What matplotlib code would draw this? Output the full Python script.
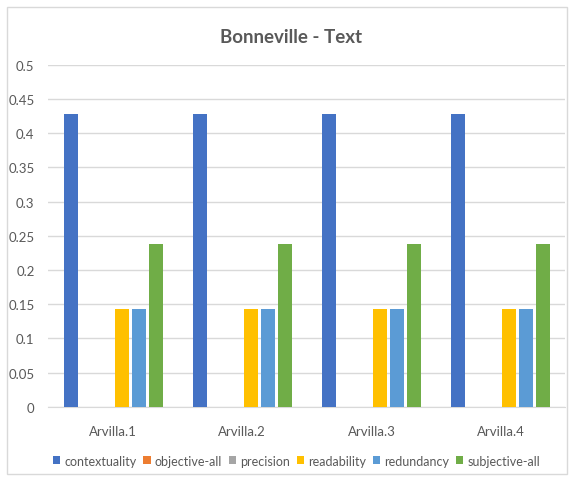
import matplotlib.pyplot as plt
from matplotlib.patches import Rectangle
import numpy as np

plt.rcParams['font.family'] = ['Lato', 'DejaVu Sans']

categories = ["Arvilla.1", "Arvilla.2", "Arvilla.3", "Arvilla.4"]
series = ["contextuality", "objective-all", "precision", "readability", "redundancy", "subjective-all"]
contextuality = [0.4286, 0.4286, 0.4286, 0.4286]
objective_all = [0, 0, 0, 0]
precision = [0, 0, 0, 0]
readability = [0.1429, 0.1429, 0.1429, 0.1429]
redundancy = [0.1429, 0.1429, 0.1429, 0.1429]
subjective_all = [0.2381, 0.2381, 0.2381, 0.2381]
values = [contextuality, objective_all, precision, readability, redundancy, subjective_all]
colors = ["#4472C4", "#ED7D31", "#A5A5A5", "#FFC000", "#5B9BD5", "#70AD47"]

fig = plt.figure(figsize=(5.7, 4.81), dpi=100)
ax = fig.add_axes([0.085, 0.152, 0.907, 0.711])

x = np.arange(len(categories))
step = 0.1315
width = 0.108
for i, (name, vals, c) in enumerate(zip(series, values, colors)):
    ax.bar(x + (i - 2.5) * step, vals, width=width, color=c, label=name, zorder=3)

ax.set_xlim(-0.5, len(categories) - 0.5)
ax.set_ylim(0, 0.5)
ax.set_yticks(np.arange(0, 0.51, 0.05))
ax.set_yticklabels(["0", "0.05", "0.1", "0.15", "0.2", "0.25", "0.3", "0.35", "0.4", "0.45", "0.5"])
ax.set_xticks(x)
ax.set_xticklabels(categories)
ax.grid(axis="y", color="#D9D9D9", linewidth=1, zorder=0)
for s in ["top", "right", "left"]:
    ax.spines[s].set_visible(False)
ax.spines["bottom"].set_color("#D9D9D9")
ax.tick_params(axis="both", length=0, colors="#595959", labelsize=9.5)
ax.tick_params(axis="x", pad=13)
ax.tick_params(axis="y", pad=10)

fig.text(0.51, 0.923, "Bonneville - Text", ha="center", va="center",
         fontsize=13.5, fontweight="bold", color="#595959")

leg = fig.legend(loc="center", bbox_to_anchor=(0.52, 0.04), ncol=6, frameon=False,
                 fontsize=9, handlelength=0.6, handleheight=0.6, handletextpad=0.3,
                 columnspacing=0.55, labelcolor="#595959")

fig.patches.append(Rectangle((7 / 570, 6 / 481), 560 / 570, 467 / 481, transform=fig.transFigure,
                             fill=False, edgecolor="#D9D9D9", linewidth=1))

fig.savefig("out.png", dpi=100)
